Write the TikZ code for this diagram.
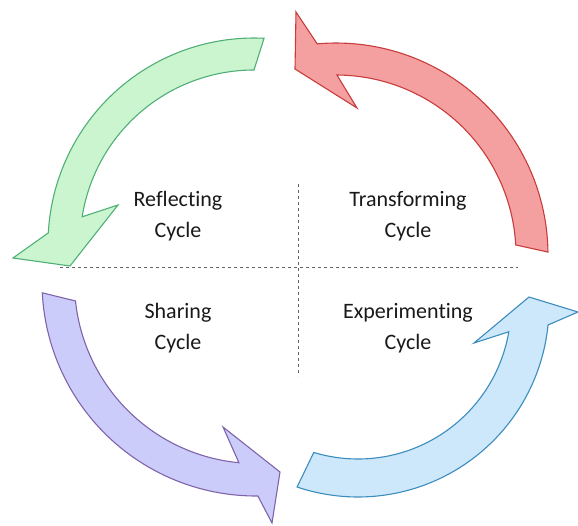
\documentclass[tikz,border=0pt]{standalone}
\usepackage{fontspec}
\setmainfont{Carlito}[Ligatures={NoCommon}]
\begin{document}
\begin{tikzpicture}[x=1pt,y=-1pt,
  arr/.style={line width=1.1pt,line join=miter},
  lbl/.style={align=center,font=\fontsize{22}{31}\selectfont,text=black!90},
  divider/.style={draw=black!60,line width=0.8pt,dash pattern=on 3pt off 3pt}]
\definecolor{gfill}{RGB}{202,245,206}\definecolor{gline}{RGB}{80,175,120}
\definecolor{rfill}{RGB}{245,160,160}\definecolor{rline}{RGB}{200,60,60}
\definecolor{pfill}{RGB}{204,204,250}\definecolor{pline}{RGB}{128,100,170}
\definecolor{bfill}{RGB}{204,232,250}\definecolor{bline}{RGB}{60,140,190}
\useasboundingbox (0,0) rectangle (578,525);
% dividers
\coordinate (hl) at (60,267); \coordinate (hr) at (518,267);
\coordinate (vt) at (298,184); \coordinate (vb) at (298,376);
\draw[divider] (hl) -- (hr);
\draw[divider] (vt) -- (vb);
% green (Reflecting)
\draw[arr,draw=gline,fill=gfill]
  plot[domain=-87.2:-176.9,samples=60] ({254+206*cos(\x)},{244+206*sin(\x)})
  -- (13,258) -- (70,266) -- (118,205) --
  plot[domain=-171:-90,samples=60] ({254+174*cos(\x)},{244+174*sin(\x)})
  -- cycle;
% red (Transforming)
\draw[arr,draw=rline,fill=rfill]
  plot[domain=-0.8:-95.1,samples=60] ({336+212*cos(\x)},{255+212*sin(\x)})
  -- (296,12) -- (295,69) -- (357,108) --
  plot[domain=-89.7:-3.2,samples=60] ({336+180*cos(\x)},{255+180*sin(\x)})
  -- cycle;
% purple (Sharing)
\draw[arr,draw=pline,fill=pfill]
  plot[domain=177.1:89.5,samples=60] ({256+214*cos(\x)},{282+214*sin(\x)})
  -- (272,523) -- (280,472) -- (223,427) --
  plot[domain=95.4:174,samples=60] ({256+181.5*cos(\x)},{282+181.5*sin(\x)})
  -- cycle;
% blue (Experimenting)
\draw[arr,draw=bline,fill=bfill]
  plot[domain=108.6:5.7,samples=60] ({358+191*cos(\x)},{306+191*sin(\x)})
  -- (578,312) -- (529,297) -- (474,343) --
  plot[domain=9.7:106.8,samples=60] ({358+153*cos(\x)},{306+153*sin(\x)})
  -- cycle;
% labels
\node[lbl] (refl) at (178,216) {Reflecting\\Cycle};
\node[lbl] (trans) at (408,216) {Transforming\\Cycle};
\node[lbl] (share) at (178,328) {Sharing\\Cycle};
\node[lbl] (exper) at (408,328) {Experimenting\\Cycle};
\end{tikzpicture}
\end{document}
